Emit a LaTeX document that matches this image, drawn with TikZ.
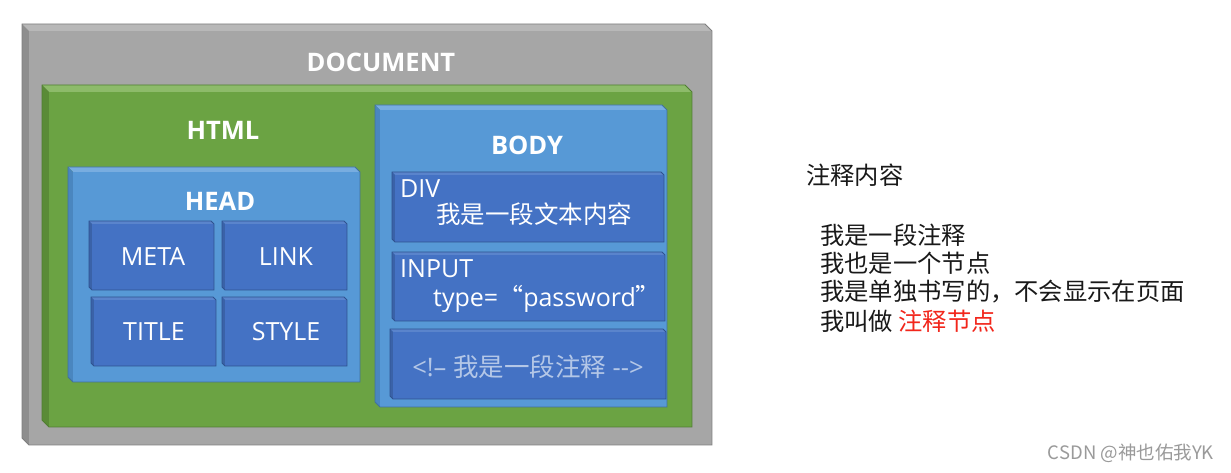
\documentclass[tikz,border=0pt]{standalone}
\usepackage{fontspec}
\setmainfont{Open Sans}
\newfontfamily\cjk{Noto Sans CJK SC}
\definecolor{gface}{HTML}{A6A6A6}
\definecolor{gtop}{HTML}{B8B8B8}
\definecolor{gleft}{HTML}{8E8E8E}
\definecolor{gbord}{HTML}{7F7F7F}
\definecolor{grface}{HTML}{6BA343}
\definecolor{grtop}{HTML}{8DBB6A}
\definecolor{grleft}{HTML}{5A8B37}
\definecolor{grbord}{HTML}{507E32}
\definecolor{bface}{HTML}{5799D6}
\definecolor{btop}{HTML}{78ADE0}
\definecolor{bleft}{HTML}{4A86BF}
\definecolor{bbord}{HTML}{41719C}
\definecolor{dface}{HTML}{4472C4}
\definecolor{dtop}{HTML}{5A84CC}
\definecolor{dleft}{HTML}{3A62A8}
\definecolor{dbord}{HTML}{2F528F}
\definecolor{cmtxt}{HTML}{B4C7E7}
\definecolor{redtxt}{HTML}{F2261B}
\definecolor{wmark}{HTML}{9A9A9A}
\newcommand\bevbox[9]{%
 \fill[#7] (#1,#2) -- ({#3-#5},#2) -- (#3,{#2+#5}) -- ({#1+#5},{#2+#5}) -- cycle;
 \fill[#8] (#1,#2) -- ({#1+#5},{#2+#5}) -- ({#1+#5},#4) -- (#1,{#4-#5}) -- cycle;
 \fill[#6] ({#1+#5},{#2+#5}) rectangle (#3,#4);
 \draw[#9,line width=0.8pt,line join=miter] (#1,#2) -- ({#3-#5},#2) -- (#3,{#2+#5}) -- (#3,#4) -- ({#1+#5},#4) -- (#1,{#4-#5}) -- cycle;
}
\tikzset{
 boldlbl/.style={text=white,font=\fontsize{25.5}{30}\bfseries\selectfont,inner sep=0pt},
 boxlbl/.style={text=white,font=\fontsize{25}{30}\selectfont,inner sep=0pt},
 noteline/.style={text=black!90,font=\fontsize{24.3}{28}\cjk,inner sep=0pt,anchor=west},
}
\begin{document}
\begin{tikzpicture}[x=1pt,y=-1pt]
\useasboundingbox[fill=white] (0,0) rectangle (1231,473);
\bevbox{22}{24}{712}{445}{7}{gface}{gtop}{gleft}{gbord}
\bevbox{42}{85}{692}{427}{7}{grface}{grtop}{grleft}{grbord}
\bevbox{68}{167}{360}{382}{5}{bface}{btop}{bleft}{bbord}
\bevbox{375}{105}{667}{407}{5}{bface}{btop}{bleft}{bbord}
\bevbox{89}{221}{214}{290}{3}{dface}{dtop}{dleft}{dbord}
\bevbox{222}{221}{347}{290}{3}{dface}{dtop}{dleft}{dbord}
\bevbox{91}{297}{216}{366}{3}{dface}{dtop}{dleft}{dbord}
\bevbox{222}{297}{347}{366}{3}{dface}{dtop}{dleft}{dbord}
\bevbox{392}{172}{664}{242}{3}{dface}{dtop}{dleft}{dbord}
\bevbox{392}{252}{665}{321}{3}{dface}{dtop}{dleft}{dbord}
\bevbox{390}{329}{666}{399}{3}{dface}{dtop}{dleft}{dbord}
\node[boldlbl] (doc) at (381,62) {DOCUMENT};
\node[boldlbl] (html) at (223,130) {HTML};
\node[boldlbl] (head) at (220,201) {HEAD};
\node[boldlbl] (body) at (527,145) {BODY};
\node[boxlbl] (meta) at (153,257) {META};
\node[boxlbl] (link) at (286,257) {LINK};
\node[boxlbl] (title) at (154,332) {TITLE};
\node[boxlbl] (style) at (286,332) {STYLE};
\node[boxlbl,anchor=west] (div) at (400,189) {DIV};
\node[boxlbl,anchor=west,font=\fontsize{24.5}{28}\cjk] (divtxt) at (436,214) {我是一段文本内容};
\node[boxlbl,anchor=west] (input) at (400,269) {INPUT};
\node[boxlbl,anchor=west] (inputtxt) at (433,299) {type={\cjk “}password{\cjk ”}};
\node[boxlbl,text=cmtxt,font=\fontsize{25.5}{30}\selectfont] (cmt) at (528,367) {<!-- {\cjk 我是一段注释} -{}->};
\node[noteline] (n0) at (806,175) {注释内容};
\node[noteline] (n1) at (820,235) {我是一段注释};
\node[noteline] (n2) at (820,263) {我也是一个节点};
\node[noteline] (n3) at (820,292) {我是单独书写的，不会显示在页面};
\node[noteline] (n4) at (820,321) {我叫做 \textcolor{redtxt}{注释节点}};
\node[text=wmark,font=\fontsize{18.5}{22}\cjk,inner sep=0pt,anchor=east] (wm) at (1214,453) {CSDN @神也佑我YK};
\end{tikzpicture}
\end{document}
